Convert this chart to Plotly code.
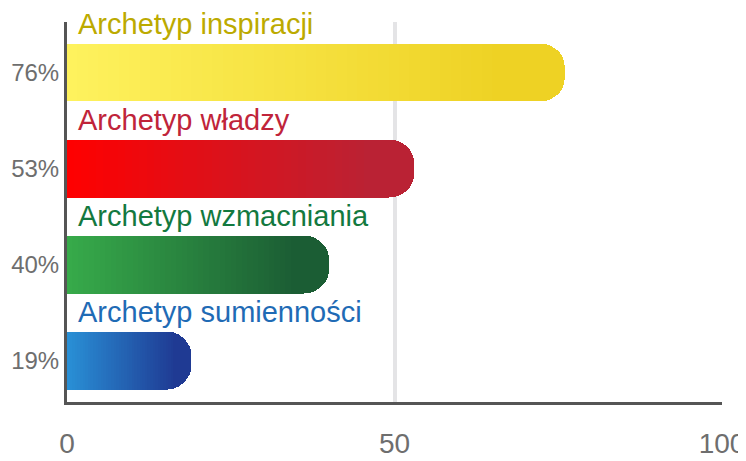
import plotly.graph_objects as go

# ---- data ----
categories = ["Archetyp inspiracji", "Archetyp władzy", "Archetyp wzmacniania", "Archetyp sumienności"]
values = [76, 53, 40, 19]
x_ticks = [0, 50, 100]

# ---- styles ----
label_colors = ["#bcaa00", "#c0243a", "#13793f", "#1f6bb5"]
grad_start = ["#fef25e", "#ff0000", "#37ab4a", "#2990d6"]
grad_end = ["#eed224", "#ba2234", "#1b5d34", "#1f3a93"]

N_SEG = 48
positions = list(range(len(categories) - 1, -1, -1))  # top to bottom
BAR_W = 0.604


def hex2rgb(h):
    h = h.lstrip("#")
    return [int(h[i:i + 2], 16) for i in (0, 2, 4)]


def mix(a, b, t):
    ca, cb = hex2rgb(a), hex2rgb(b)
    return "rgb(%d,%d,%d)" % tuple(round(ca[i] + (cb[i] - ca[i]) * t) for i in range(3))


fig = go.Figure()
for k in range(N_SEG):
    t = (k + 0.5) / N_SEG
    fig.add_trace(go.Bar(
        x=[v / N_SEG for v in values],
        y=positions,
        orientation="h",
        width=BAR_W,
        marker=dict(color=[mix(s, e, min(1, t * 1.15)) for s, e in zip(grad_start, grad_end)],
                    line=dict(width=0)),
        hoverinfo="skip",
        showlegend=False,
    ))

for cat, pos, col in zip(categories, positions, label_colors):
    fig.add_annotation(
        x=0, y=pos + BAR_W / 2, xref="x", yref="y",
        text=cat, showarrow=False,
        xanchor="left", yanchor="bottom", xshift=9, yshift=2,
        font=dict(family="Liberation Sans, Arial, sans-serif", size=29, color=col),
    )

# page body has an 8px default margin, so the figure is 8px smaller than the window
fig.update_layout(
    width=738, height=453,
    margin=dict(l=59, r=24, t=14, b=59, autoexpand=False),
    barmode="stack",
    barcornerradius=24,
    plot_bgcolor="white",
    paper_bgcolor="white",
    showlegend=False,
)

fig.update_xaxes(
    range=[0, 100],
    tickvals=x_ticks,
    ticktext=[str(t) for t in x_ticks],
    showgrid=True, gridcolor="#e4e4e6", gridwidth=4,
    showline=True, linecolor="#555555", linewidth=3,
    zeroline=False, automargin=False,
    ticks="", ticklabelstandoff=14, ticklabeloverflow="allow",
    tickfont=dict(family="Liberation Sans, Arial, sans-serif", size=28, color="#6e6e6e"),
    fixedrange=True,
)
fig.update_yaxes(
    range=[-0.432, 3.526],
    tickvals=positions,
    ticktext=[f"{v}%" for v in values],
    showgrid=False,
    showline=True, linecolor="#555555", linewidth=3,
    zeroline=False, automargin=False,
    ticks="", ticklabelstandoff=0, ticklabeloverflow="allow",
    tickfont=dict(family="Liberation Sans, Arial, sans-serif", size=24, color="#6e6e6e"),
    fixedrange=True,
)

fig.write_html("out.html", config={"displayModeBar": False})
